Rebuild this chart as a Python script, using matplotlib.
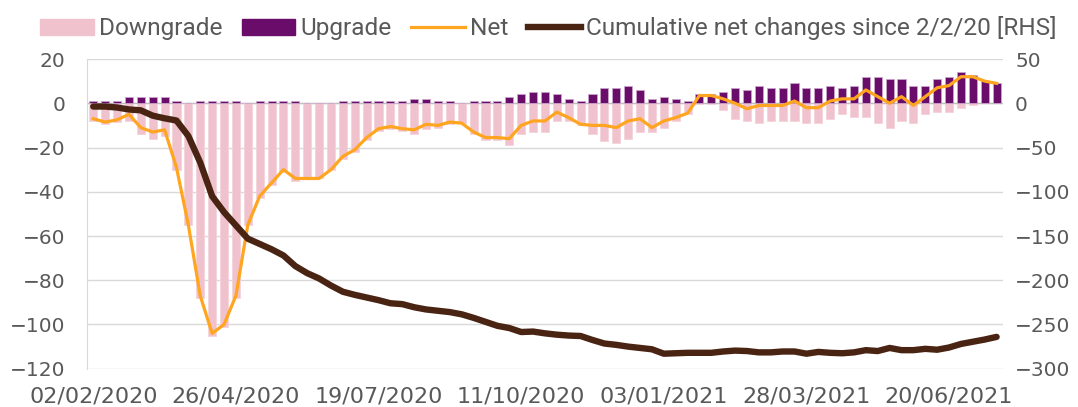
import matplotlib
matplotlib.use("Agg")
import matplotlib.pyplot as plt
import numpy as np
import pandas as pd
from matplotlib.patches import Patch
from matplotlib.lines import Line2D

# weekly data since 02/02/2020
weeks = pd.date_range("2020-02-02", periods=77, freq="7D")

upgrade = [1, 1, 1, 3, 3, 3, 3, 1, 0, 1, 1, 1, 1, 0, 1, 1,
           1, 1, 0, 0, 0, 1, 1, 1, 1, 1, 1, 2, 2, 1, 1, 0,
           1, 1, 1, 3, 4, 5, 5, 4, 2, 1, 4, 7, 7, 8, 6, 2,
           3, 2, 1, 4, 4, 5, 7, 6, 8, 7, 7, 9, 7, 7, 8, 7,
           8, 12, 12, 11, 11, 8, 8, 11, 12, 14, 13, 10, 9]

downgrade = [-8, -9.5, -8.5, -8, -14, -16, -15, -30, -55, -88, -105, -101, -88, -55, -43, -37,
             -31, -35, -34, -34, -30, -25, -22, -16.5, -12.5, -11.5, -12.5, -14, -11.5, -11, -9.5, -9,
             -14, -16.5, -16.5, -19, -14, -13, -13, -8, -8, -10, -14, -17, -18, -16, -13, -13,
             -11, -8, -5, -0.5, -0.5, -3, -7, -8, -9, -8, -8, -8, -9, -9, -7, -5,
             -6, -6, -9, -11, -8, -9, -5, -4, -4, -2, -1, 0, 0]

net = [-7, -8.5, -7.5, -5, -11, -13, -12, -29, -55, -87, -104, -100, -87, -55, -42, -36,
       -30, -34, -34, -34, -30, -24, -21, -15.5, -11.5, -10.5, -11.5, -12, -9.5, -10, -8.5, -9,
       -13, -15.5, -15.5, -16, -10, -8, -8, -4, -6.5, -9.5, -10, -10, -11, -8, -7, -11,
       -8, -6.5, -4.5, 3.5, 3.5, 2, 0, -2.5, -1, -1, -1, 1, -2, -2, 1, 2,
       2, 6, 3, 0, 3, -1, 3, 7, 8, 12, 12, 10, 9]

cumulative = [-3.7, -3.7, -4.8, -7, -8, -14, -17, -19.5, -37, -67, -105, -123, -138, -153, -159, -165,
              -172, -184, -192, -198, -206, -213, -216.5, -219.5, -222.5, -226, -227, -230.5, -233, -234.5, -236, -238.5,
              -242.5, -247, -251.5, -254, -258.5, -258, -260, -261.5, -262.5, -263, -267.5, -271.5, -273, -275, -276.5, -278,
              -283, -282.5, -282, -282, -282, -280.5, -279.5, -280, -281.5, -281.5, -280.5, -280.5, -283, -281, -282, -282.5,
              -281.5, -279, -280, -276.5, -279, -279, -277.5, -278.5, -276, -272, -269.5, -267, -264]

tick_labels = ["02/02/2020", "26/04/2020", "19/07/2020", "11/10/2020",
               "03/01/2021", "28/03/2021", "20/06/2021"]

pink = "#F0C2CE"
purple = "#6A0D6A"
orange = "#FFA51F"
brown = "#4A2412"
grey_txt = "#595959"
grid_c = "#D9D9D9"

plt.rcParams["font.family"] = ["DejaVu Sans"]
fs = 14.5

fig = plt.figure(figsize=(10.78, 4.07), dpi=100)
ax = fig.add_axes([0.081, 0.094, 0.849, 0.761])
ax2 = ax.twinx()

x = np.arange(len(weeks))
ax.bar(x, downgrade, width=0.68, color=pink, edgecolor="#F4D3DB", linewidth=0.6, zorder=2)
ax.bar(x, upgrade, width=0.68, color=purple, edgecolor="#C9A3C9", linewidth=0.6, zorder=2)
ax.plot(x, net, color=orange, lw=2.3, zorder=3, solid_joinstyle="round")
ax.axhline(0, color="#BFBFBF", lw=1.0, zorder=1)

ax2.plot(x, cumulative, color=brown, lw=4.6, solid_capstyle="round", solid_joinstyle="round")

ax.set_xlim(-0.5, len(weeks) - 0.5)
ax.set_ylim(-120, 20)
ax.set_yticks(np.arange(-120, 21, 20))
ax2.set_ylim(-300, 50)
ax2.set_yticks(np.arange(-300, 51, 50))

ax.set_xticks(x[::12])
ax.set_xticklabels(tick_labels)

ax.grid(axis="y", color=grid_c, lw=1.0, zorder=0)
ax.set_axisbelow(True)
ax2.set_zorder(ax.get_zorder() + 1)
ax2.patch.set_visible(False)

for a in (ax, ax2):
    for s in a.spines.values():
        s.set_visible(False)
    a.tick_params(length=0, labelsize=fs, colors=grey_txt)
ax.spines["left"].set_visible(True)
ax.spines["left"].set_color(grid_c)
ax.tick_params(axis="y", pad=16)
ax.tick_params(axis="x", pad=13, labelsize=16)
ax2.tick_params(axis="y", pad=9)

handles = [Patch(facecolor=pink, edgecolor=pink),
           Patch(facecolor=purple, edgecolor=purple),
           Line2D([], [], color=orange, lw=2.3),
           Line2D([], [], color=brown, lw=4.6)]
labels = ["Downgrade", "Upgrade", "Net", "Cumulative net changes since 2/2/20 [RHS]"]
leg = fig.legend(handles, labels, loc="center left", bbox_to_anchor=(0.037, 0.93),
                 ncol=4, frameon=False, prop={"family": ["Roboto", "DejaVu Sans"], "size": 17.6},
                 handlelength=2.2, handleheight=0.62, handletextpad=0.2, columnspacing=0.8,
                 borderaxespad=0, borderpad=0)
for t in leg.get_texts():
    t.set_color(grey_txt)

fig.savefig("out.png", dpi=100)
